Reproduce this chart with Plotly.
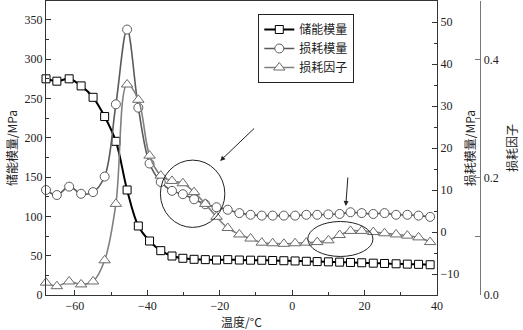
import plotly.graph_objects as go

# Temperature sweep (°C)
temperature = [-68, -65, -61.6, -58.3, -55, -51.8, -48.7, -45.6, -42.5, -39.4,
               -36.3, -33.2, -30.2, -27.1, -24.0, -20.9, -17.8, -14.6, -11.5, -8.4,
               -5.4, -2.3, 0.8, 3.9, 6.9, 10.0, 13.1, 16.1, 19.2, 22.4,
               25.5, 28.7, 31.8, 34.9, 38.1]

# Storage modulus (MPa)
storage_modulus = [275, 272, 275, 266, 251.5, 227, 195.5, 133.6, 87.8, 68.7,
                   56.4, 49.6, 46.7, 45.4, 45.0, 44.5, 45.0, 44.5, 44.3, 44.2,
                   43.9, 43.6, 43.3, 42.9, 42.5, 42.2, 41.8, 41.4, 41.0, 40.5,
                   40.1, 39.7, 39.3, 39.0, 38.5]

# Loss modulus (MPa)
loss_modulus = [10.0, 8.8, 10.8, 9.1, 9.5, 13.2, 30.4, 48.2, 29.6, 16.3,
                11.9, 9.8, 9.0, 7.8, 6.6, 5.9, 5.3, 4.5, 4.1, 3.9,
                3.9, 3.9, 3.9, 4.1, 4.1, 4.2, 4.3, 4.7, 4.5, 4.3,
                4.5, 4.1, 4.1, 3.9, 3.6]

# Loss factor (tan delta)
loss_factor = [0.021, 0.015, 0.023, 0.018, 0.023, 0.059, 0.155, 0.358, 0.332, 0.237,
               0.203, 0.194, 0.190, 0.175, 0.155, 0.133, 0.114, 0.103, 0.096, 0.089,
               0.088, 0.087, 0.088, 0.089, 0.090, 0.093, 0.102, 0.109, 0.109, 0.107,
               0.105, 0.103, 0.101, 0.098, 0.090]

series_names = ["储能模量", "损耗模量", "损耗因子"]

SERIF = "Liberation Serif"
CJK = "Noto Sans CJK SC"

W, H = 523, 330
ML, MR, MT, MB = 46, 0, 1, 35
plot_right_px = 442
axis3_px = 486
pw = W - ML - MR
x_dom_end = (plot_right_px - ML) / pw
axis3_pos = (axis3_px - ML) / pw

fig = go.Figure()

fig.add_trace(go.Scatter(
    x=temperature, y=storage_modulus, name=series_names[0],
    mode="lines+markers", line=dict(color="#000000", width=2, shape="spline"),
    marker=dict(symbol="square", size=8, color="white",
                line=dict(color="#000000", width=1)),
    cliponaxis=False, yaxis="y"))

fig.add_trace(go.Scatter(
    x=temperature, y=loss_modulus, name=series_names[1],
    mode="lines+markers", line=dict(color="#5a5a5a", width=1.6, shape="spline"),
    marker=dict(symbol="circle", size=9, color="white",
                line=dict(color="#5a5a5a", width=1)),
    cliponaxis=False, yaxis="y2"))

fig.add_trace(go.Scatter(
    x=temperature, y=loss_factor, name=series_names[2],
    mode="lines+markers", line=dict(color="#808080", width=1.6, shape="spline"),
    marker=dict(symbol="triangle-up", size=10, color="white",
                line=dict(color="#6a6a6a", width=1)),
    cliponaxis=False, yaxis="y3"))

tickfont = dict(family=SERIF, size=12, color="#222")
titlefont = dict(family=CJK, size=12, color="#222")

fig.update_layout(
    width=W, height=H,
    margin=dict(l=ML, r=MR, t=MT, b=MB),
    paper_bgcolor="white", plot_bgcolor="white",
    showlegend=True,
    legend=dict(x=(261 - ML) / pw, y=(295 - 14) / 294, xanchor="left", yanchor="top",
                bgcolor="white", bordercolor="#222", borderwidth=1,
                font=dict(family=CJK, size=12, color="#222"),
                tracegroupgap=0, itemwidth=30),
    xaxis=dict(domain=[0, x_dom_end], range=[-68, 40], showgrid=False, zeroline=False,
               showline=True, linecolor="#333", linewidth=1, mirror=True,
               ticks="inside", ticklen=5, tickcolor="#333", dtick=20, tick0=0,
               minor=dict(ticks="inside", ticklen=3, dtick=10, tick0=0, tickcolor="#333"),
               tickfont=tickfont,
               title=dict(text="温度/°C", font=titlefont, standoff=6)),
    yaxis=dict(range=[0, 374], showgrid=False, zeroline=False,
               showline=True, linecolor="#333", linewidth=1,
               ticks="inside", ticklen=5, tickcolor="#333", dtick=50, tick0=0,
               minor=dict(ticks="inside", ticklen=3, dtick=25, tick0=0, tickcolor="#333"),
               tickfont=tickfont,
               title=dict(text="储能模量/MPa", font=titlefont, standoff=4)),
    yaxis2=dict(range=[-15, 55], overlaying="y", side="right", anchor="x",
                showgrid=False, zeroline=False,
                showline=True, linecolor="#333", linewidth=1,
                ticks="inside", ticklen=5, tickcolor="#333", dtick=10, tick0=0,
                minor=dict(ticks="inside", ticklen=3, dtick=5, tick0=0, tickcolor="#333"),
                tickfont=tickfont,
                title=dict(text="损耗模量/MPa", font=titlefont, standoff=8)),
    yaxis3=dict(range=[0, 0.5], overlaying="y", side="right", anchor="free",
                position=axis3_pos, showgrid=False, zeroline=False,
                showline=True, linecolor="#777", linewidth=1,
                ticks="inside", ticklen=5, tickcolor="#777", dtick=0.2, tick0=0,
                tickformat=".1f",
                minor=dict(ticks="inside", ticklen=5, dtick=0.1, tick0=0, tickcolor="#777"),
                tickfont=tickfont,
                title=dict(text="损耗因子", font=titlefont, standoff=10)),
)

# Highlight regions and pointers
fig.add_shape(type="circle", xref="x", yref="y", x0=-36.4, x1=-18.6, y0=86, y1=171.6,
              line=dict(color="#222", width=1))
fig.add_shape(type="circle", xref="x", yref="y", x0=4.3, x1=22.3, y0=49, y1=93.5,
              line=dict(color="#222", width=1))
fig.add_annotation(x=-19.9, y=170.5, ax=-10.1, ay=213.7, xref="x", yref="y",
                   axref="x", ayref="y", text="", showarrow=True,
                   arrowhead=2, arrowsize=1, arrowwidth=1, arrowcolor="#222")
fig.add_annotation(x=14.8, y=113.2, ax=15.4, ay=151.4, xref="x", yref="y",
                   axref="x", ayref="y", text="", showarrow=True,
                   arrowhead=2, arrowsize=1, arrowwidth=1, arrowcolor="#222")

fig.write_html("out.html")
